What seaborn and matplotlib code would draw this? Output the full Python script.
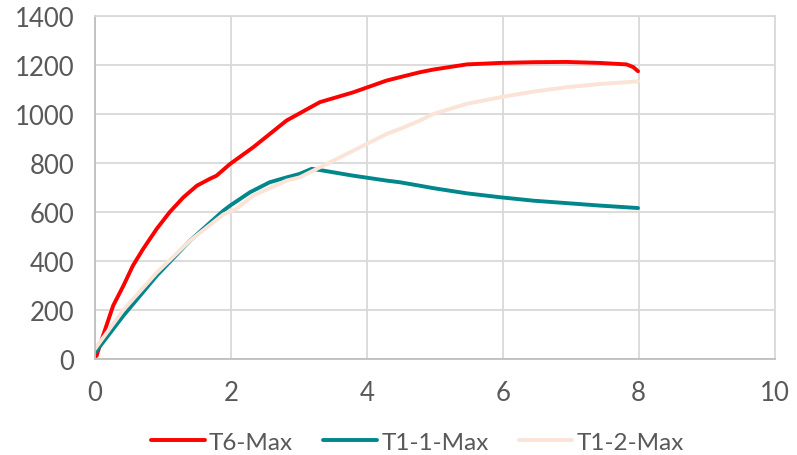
import matplotlib.pyplot as plt
import numpy as np
import pandas as pd
import seaborn as sns

# values
t6_x = [0.0, 0.025, 0.12, 0.27, 0.42, 0.56, 0.71, 0.91, 1.10, 1.30, 1.50, 1.69, 1.79, 1.99,
        2.23, 2.33, 2.82, 3.31, 3.80, 4.29, 4.49, 4.78, 4.98, 5.47, 5.96, 6.45, 6.94, 7.43,
        7.82, 7.92, 7.99]
t6_y = [10, 13, 95, 218, 299, 381, 449, 531, 599, 659, 707, 735, 748, 796,
        844, 864, 973, 1048, 1088, 1136, 1150, 1170, 1181, 1202, 1208, 1211, 1212, 1208,
        1202, 1191, 1174]

t11_x = [0.0, 0.025, 0.42, 0.91, 1.40, 1.89, 1.99, 2.28, 2.57, 2.82, 3.01, 3.19, 3.31, 3.80,
         4.29, 4.49, 4.78, 4.98, 5.47, 5.96, 6.45, 6.94, 7.43, 7.99]
t11_y = [25, 34, 177, 340, 483, 605, 626, 680, 721, 741, 755, 776, 771, 748,
         728, 721, 707, 697, 676, 660, 646, 636, 626, 616]

t12_x = [0.0, 0.025, 0.42, 0.91, 1.40, 1.89, 2.08, 2.33, 2.82, 3.01, 3.31, 3.80, 4.29, 4.49,
         4.78, 4.98, 5.47, 5.96, 6.45, 6.94, 7.43, 7.99]
t12_y = [40, 50, 200, 352, 483, 590, 612, 667, 728, 741, 782, 850, 918, 939,
         973, 1000, 1041, 1068, 1091, 1109, 1122, 1133]

series_names = ["T6-Max", "T1-1-Max", "T1-2-Max"]
colors = ["#FF0000", "#00878C", "#FBE3D7"]

df = pd.concat([
    pd.DataFrame({"x": t6_x, "y": t6_y, "series": series_names[0]}),
    pd.DataFrame({"x": t11_x, "y": t11_y, "series": series_names[1]}),
    pd.DataFrame({"x": t12_x, "y": t12_y, "series": series_names[2]}),
])

sns.set_style("white")
plt.rcParams["font.family"] = ["Lato", "DejaVu Sans"]

fig = plt.figure(figsize=(7.97, 4.56), dpi=100)
ax = fig.add_axes([0.119, 0.2105, 0.853, 0.7525])

sns.lineplot(data=df, x="x", y="y", hue="series", palette=dict(zip(series_names, colors)),
             linewidth=2.8, sort=False, estimator=None, ax=ax)
for line in ax.lines:
    line.set_solid_joinstyle("round")
    line.set_solid_capstyle("round")

ax.set_xlim(0, 10)
ax.set_ylim(0, 1400)
ax.set_xticks(np.arange(0, 11, 2))
ax.set_yticks(np.arange(0, 1401, 200))
ax.grid(True, color="#D9D9D9", linewidth=1.3)
ax.set_axisbelow(True)
for s in ax.spines.values():
    s.set_color("#D9D9D9")
    s.set_linewidth(1.3)
ax.spines["bottom"].set_color("#BFBFBF")
ax.spines["left"].set_color("#BFBFBF")
ax.tick_params(axis="both", length=0, labelsize=18.5, labelcolor="#595959", pad=15)
ax.set_xlabel("")
ax.set_ylabel("")

ax.legend_.remove()
handles, labels = ax.get_legend_handles_labels()
fig.legend(handles, labels, loc="center", bbox_to_anchor=(0.524, 0.028), ncol=3, frameon=False,
           fontsize=17.5, labelcolor="#595959", handlelength=2.2, handletextpad=0.18,
           columnspacing=1.25, borderpad=0.2)

fig.savefig("out.png", dpi=100)
